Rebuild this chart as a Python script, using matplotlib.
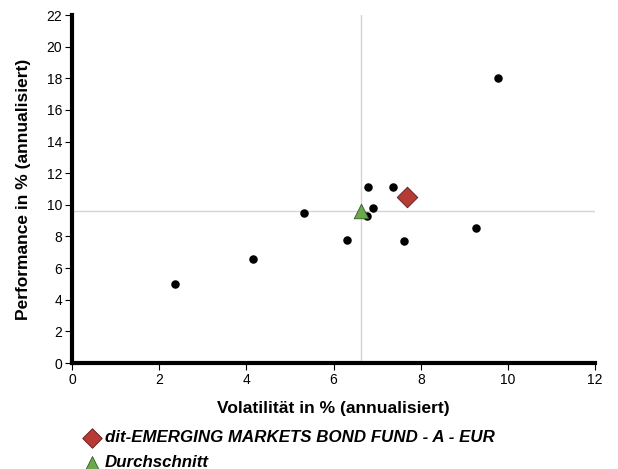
import matplotlib.pyplot as plt

plt.rcParams['font.family'] = ['Liberation Sans', 'DejaVu Sans']

# peer funds (volatility, performance)
peer_vol = [2.36, 4.16, 5.33, 6.31, 6.80, 6.77, 6.91, 7.36, 7.61, 9.26, 9.77]
peer_perf = [5.0, 6.55, 9.5, 7.8, 11.15, 9.32, 9.82, 11.15, 7.72, 8.55, 18.0]

fund_name = "dit-EMERGING MARKETS BOND FUND - A - EUR"
fund_vol = [7.68]
fund_perf = [10.48]

avg_name = "Durchschnitt"
avg_vol = [6.62]
avg_perf = [9.6]

x_ticks = [0, 2, 4, 6, 8, 10, 12]
y_ticks = [0, 2, 4, 6, 8, 10, 12, 14, 16, 18, 20, 22]

fig = plt.figure(figsize=(6.18, 4.69), dpi=100)
ax = fig.add_axes([0.1165, 0.226, 0.8465, 0.742])

ax.axvline(avg_vol[0], color='#d4d4d4', lw=1, zorder=1)
ax.axhline(avg_perf[0], color='#d4d4d4', lw=1, zorder=1)

ax.scatter(peer_vol, peer_perf, s=26, color='black', zorder=3)
ax.scatter(fund_vol, fund_perf, s=110, marker='D', color='#b83a35',
           edgecolors='#5a1a18', linewidths=0.6, zorder=4, label=fund_name)
ax.scatter(avg_vol, avg_perf, s=110, marker='^', color='#6aa84f',
           edgecolors='#2f5a22', linewidths=0.6, zorder=4, label=avg_name)

ax.set_xlim(0, 12)
ax.set_ylim(0, 22)
ax.set_xticks(x_ticks)
ax.set_yticks(y_ticks)
ax.tick_params(direction='out', length=5, width=0.8, labelsize=10, color='black', pad=2)

for s in ['top', 'right']:
    ax.spines[s].set_visible(False)
for s in ['left', 'bottom']:
    ax.spines[s].set_linewidth(3)

ax.set_xlabel("Volatilität in % (annualisiert)", fontsize=12.5, fontweight='bold', labelpad=10)
ax.set_ylabel("Performance in % (annualisiert)", fontsize=12.5, fontweight='bold', labelpad=11)

fig.legend(loc='upper left', bbox_to_anchor=(0.1345, 0.083), frameon=False,
           prop={'size': 12.2, 'weight': 'bold', 'style': 'italic'},
           handlelength=1.0, handletextpad=0.3, labelspacing=0.6,
           borderpad=0, borderaxespad=0, markerscale=0.95)

fig.savefig("out.png", dpi=100)
